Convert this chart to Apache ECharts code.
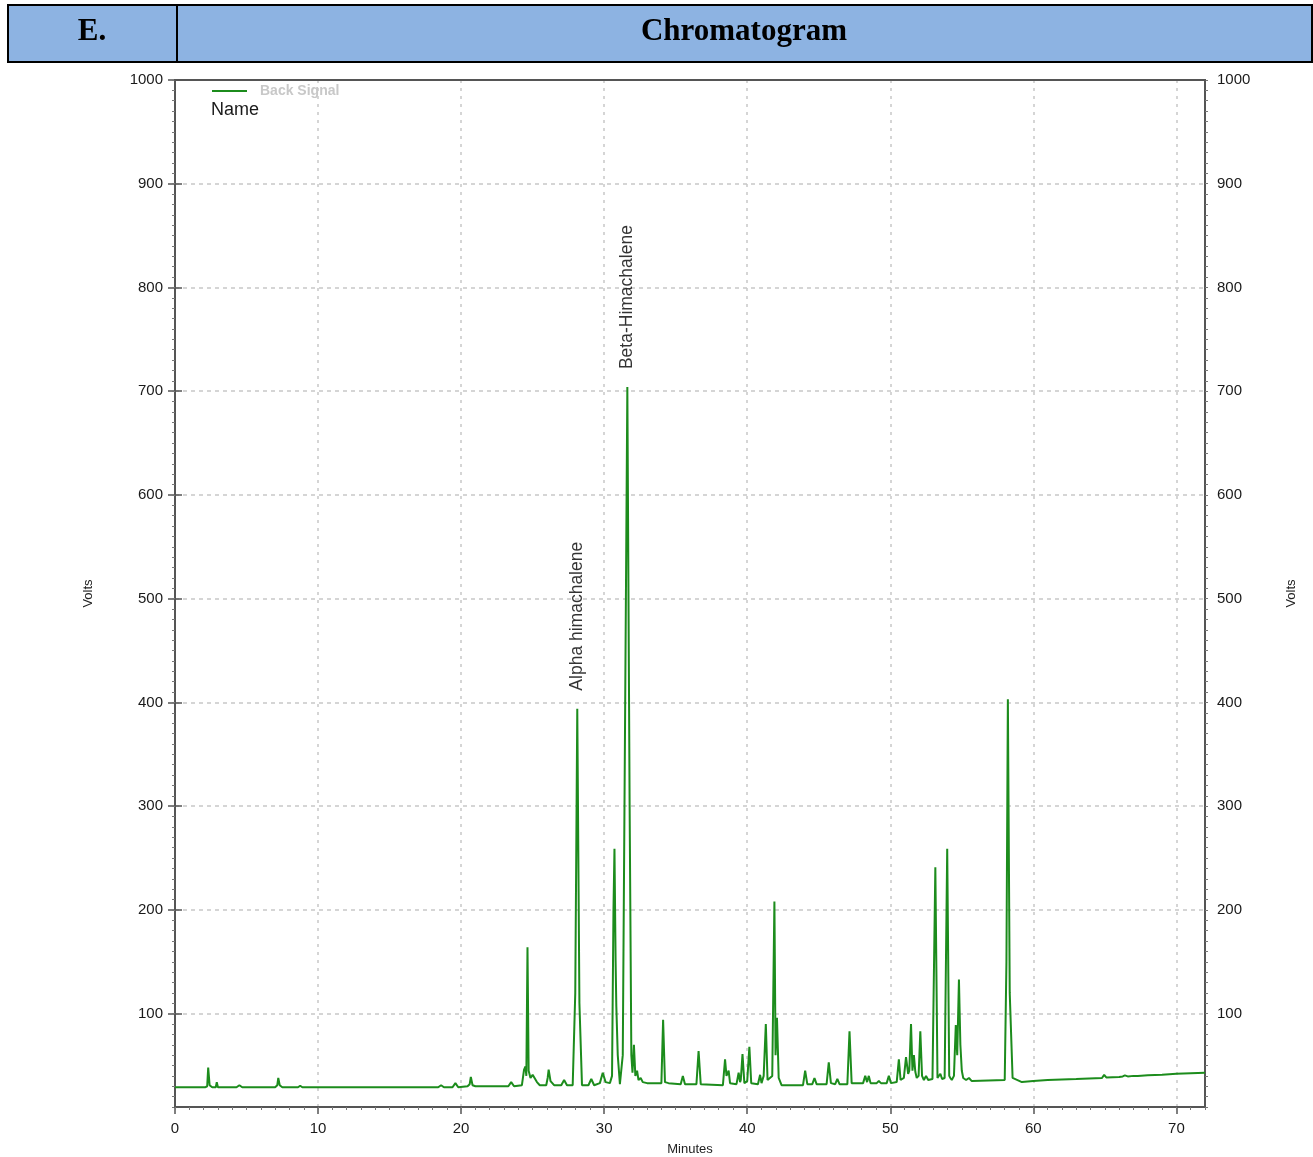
<!DOCTYPE html>
<html>
<head>
<meta charset="utf-8">
<script src="https://cdn.jsdelivr.net/npm/echarts@6/dist/echarts.min.js"></script>
<style>
html,body{margin:0;padding:0;background:#fff;}
#chart{width:1313px;height:1157px;}
</style>
</head>
<body>
<div id="chart"></div>
<script>
// Retention times (minutes) and detector signal (volts)
var minutes = [
  0, 2.1, 2.25, 2.32, 2.42, 2.6, 2.85, 2.92, 3.0, 4.3, 4.5, 4.7, 7.0, 7.15, 7.22, 7.32, 7.5,
  8.6, 8.75, 8.9, 18.4, 18.6, 18.8, 19.4, 19.6, 19.8, 20.45, 20.6, 20.68, 20.8, 21.0,
  23.3, 23.5, 23.7, 24.25, 24.4, 24.5, 24.56, 24.64, 24.72, 24.85, 25.0, 25.12, 25.3, 25.5,
  25.95, 26.05, 26.12, 26.25, 26.5, 27.0, 27.2, 27.4, 27.8, 27.98, 28.12, 28.27, 28.45,
  28.9, 29.1, 29.3, 29.7, 29.9, 30.1, 30.4, 30.55, 30.65, 30.72, 30.8, 30.85, 30.95, 31.1,
  31.3, 31.47, 31.62, 31.78, 31.9, 31.98, 32.08, 32.18, 32.3, 32.4, 32.55, 32.7, 33.0,
  34.0, 34.12, 34.25, 34.5, 35.35, 35.5, 35.65, 36.45, 36.6, 36.75,
  38.3, 38.45, 38.55, 38.7, 38.8, 38.9, 39.25, 39.4, 39.5, 39.55, 39.67, 39.8, 40.0, 40.15, 40.28,
  40.75, 40.9, 41.0, 41.15, 41.3, 41.42, 41.75, 41.9, 41.98, 42.08, 42.2, 42.4, 43.0, 43.1, 43.3,
  43.9, 44.05, 44.2, 44.55, 44.7, 44.85, 45.55, 45.7, 45.85, 46.15, 46.3, 46.45, 47.0, 47.15, 47.3,
  48.1, 48.25, 48.38, 48.5, 48.62, 49.05, 49.2, 49.35, 49.75, 49.9, 50.05,
  50.45, 50.6, 50.72, 50.95, 51.1, 51.25, 51.33, 51.45, 51.55, 51.65, 51.75, 51.85, 51.98, 52.1, 52.22,
  52.35, 52.5, 52.65, 52.95, 53.15, 53.3, 53.4, 53.5, 53.62, 53.8, 53.98, 54.12, 54.2, 54.3,
  54.45, 54.58, 54.68, 54.8, 54.9, 55.0, 55.1, 55.3, 55.5, 55.7, 58.0, 58.12, 58.22, 58.35, 58.55,
  59.2, 60.0, 61.0, 62.0, 63.0, 64.8, 64.95, 65.1, 66.0, 66.1, 66.25, 66.4, 66.6, 67.0, 67.1, 67.3,
  68.0, 69.0, 70.0, 71.0, 72.0
];
var volts = [
  29, 29, 30, 48, 31, 29, 29, 34, 29, 29, 31, 29, 29, 31, 38, 31, 29,
  29, 30.5, 29, 29, 31, 29, 29, 33, 29, 30, 32, 39, 31, 30,
  30, 34, 30, 31, 46, 49, 40, 164, 45, 38, 41, 40, 34, 31,
  31, 38, 46, 35, 31, 31, 36, 31, 31, 120, 394, 110, 31,
  31, 37, 31, 33, 43, 34, 33, 40, 200, 259, 150, 107, 60, 32,
  60, 400, 704, 300, 60, 43, 70, 40, 45, 36, 38, 34, 33,
  33, 94, 34, 33, 32, 40, 32, 32, 64, 32,
  31, 56, 40, 45, 33, 32, 32, 43, 34, 36, 61, 33, 35, 68, 33,
  32, 41, 33, 40, 90, 36, 40, 208, 60, 96, 38, 31, 31, 32, 31,
  31, 45, 32, 32, 38, 32, 32, 53, 33, 32, 37, 32, 32, 83, 33,
  33, 40, 34, 40, 33, 33, 35, 33, 33, 40, 33,
  34, 56, 36, 38, 58, 42, 45, 90, 45, 60, 44, 38, 40, 83, 40,
  36, 40, 36, 37, 241, 38, 38, 42, 37, 38, 259, 40, 38, 36,
  40, 89, 60, 133, 70, 45, 38, 36, 38, 35, 36, 150, 403, 120, 38,
  34, 35, 36, 36.5, 37, 38, 41, 38.5, 39, 40.5, 39.5, 40.5, 39.5, 40, 41, 40,
  40.5, 41, 42, 42.5, 43
];
var peakNames = ['Alpha himachalene', 'Beta-Himachalene'];
var peakTimes = [28.12, 31.62];
var yTickLabels = [100, 200, 300, 400, 500, 600, 700, 800, 900, 1000];
var xTickLabels = [0, 10, 20, 30, 40, 50, 60, 70];

var lineData = minutes.map(function (t, i) { return [t, volts[i]]; });
var labelData = peakNames.map(function (n, i) {
  var idx = minutes.indexOf(peakTimes[i]);
  return { name: n, value: [peakTimes[i], volts[idx]] };
});

var axisColor = '#555';
var FONT = '"Liberation Sans", Arial, sans-serif';
var labelStyle = { color: '#1a1a1a', fontSize: 15, fontFamily: FONT, formatter: function (v) { return String(v); } };
var gridLine = { show: true, lineStyle: { color: '#c8c8c8', type: [4, 4], width: 1.5 } };

function majorY(pos) {
  return {
    type: 'value', position: pos, min: 10, max: 1000,
    name: 'Volts', nameLocation: 'middle', nameRotate: 90, nameGap: 80,
    nameTextStyle: { color: '#222', fontSize: 13, fontFamily: FONT },
    axisLine: { show: true, lineStyle: { color: axisColor, width: 2 } },
    axisTick: { show: true, length: 7, customValues: yTickLabels, lineStyle: { color: axisColor, width: 1.5 } },
    axisLabel: Object.assign({ customValues: yTickLabels, margin: 12 }, labelStyle),
    splitLine: pos === 'left' ? gridLine : { show: false }
  };
}
function minorY(pos) {
  return {
    type: 'value', position: pos, min: 10, max: 1000, interval: 10,
    axisLine: { show: false },
    axisTick: { show: true, length: 3, lineStyle: { color: '#777', width: 1 } },
    axisLabel: { show: false }, splitLine: { show: false }
  };
}

var chart = echarts.init(document.getElementById('chart'), null, { renderer: 'canvas' });
chart.setOption({
  animation: false,
  backgroundColor: '#fff',
  grid: { left: 175, right: 108, top: 80, bottom: 50, outerBoundsMode: 'none', containLabel: false,
          show: true, borderColor: axisColor, borderWidth: 2, backgroundColor: 'transparent' },
  legend: {
    show: true, left: 212, top: 84, icon: 'rect', itemWidth: 35, itemHeight: 2, itemGap: 10, padding: 0,
    data: ['Back Signal'],
    textStyle: { color: '#c8c8c8', fontSize: 14, fontWeight: 'bold', fontFamily: FONT, padding: [0, 0, 0, 8] }
  },
  xAxis: [
    {
      type: 'value', position: 'bottom', min: 0, max: 72,
      name: 'Minutes', nameLocation: 'middle', nameGap: 36,
      nameTextStyle: { color: '#222', fontSize: 13, fontFamily: FONT },
      axisLine: { show: true, lineStyle: { color: axisColor, width: 2 } },
      axisTick: { show: true, length: 7, customValues: xTickLabels, lineStyle: { color: axisColor, width: 1.5 } },
      axisLabel: Object.assign({ customValues: xTickLabels, margin: 14 }, labelStyle),
      splitLine: { show: true, lineStyle: { color: '#c8c8c8', type: [3, 5], width: 1.5 } }
    },
    {
      type: 'value', position: 'bottom', min: 0, max: 72, interval: 1,
      axisLine: { show: false },
      axisTick: { show: true, length: 3, lineStyle: { color: '#777', width: 1 } },
      axisLabel: { show: false }, splitLine: { show: false }
    },
    {
      type: 'value', position: 'top', min: 0, max: 72, z: 5,
      axisLine: { show: true, lineStyle: { color: axisColor, width: 2 } },
      axisTick: { show: false }, axisLabel: { show: false }, splitLine: { show: false }
    }
  ],
  yAxis: [majorY('left'), majorY('right'), minorY('left'), minorY('right')],
  graphic: [
    { type: 'rect', shape: { x: 8, y: 5, width: 1304, height: 57 }, style: { fill: '#8DB3E2', stroke: '#000', lineWidth: 2 }, z: 100 },
    { type: 'line', shape: { x1: 177, y1: 5, x2: 177, y2: 62 }, style: { stroke: '#000', lineWidth: 2 }, z: 101 },
    { type: 'text', x: 92, y: 32, style: { text: 'E.', fill: '#000', font: 'bold 31px "Liberation Serif", "Times New Roman", serif', align: 'center', verticalAlign: 'middle' }, z: 102 },
    { type: 'text', x: 744, y: 32, style: { text: 'Chromatogram', fill: '#000', font: 'bold 31px "Liberation Serif", "Times New Roman", serif', align: 'center', verticalAlign: 'middle' }, z: 102 },
    { type: 'text', x: 211, y: 110, style: { text: 'Name', fill: '#1a1a1a', font: '18px "Liberation Sans", Arial, sans-serif', align: 'left', verticalAlign: 'middle' }, z: 102 }
  ],
  series: [
    {
      name: 'Back Signal', type: 'line', xAxisIndex: 0, yAxisIndex: 0,
      data: lineData, showSymbol: false, symbol: 'none', sampling: null,
      lineStyle: { color: '#1c8c1c', width: 2 }, itemStyle: { color: '#1c8c1c' }
    },
    {
      name: 'labels', type: 'scatter', xAxisIndex: 0, yAxisIndex: 0,
      data: labelData, symbolSize: 0, silent: true,
      label: {
        show: true, formatter: '{b}', position: 'top', distance: 18, rotate: 90,
        align: 'left', verticalAlign: 'middle', color: '#000', fontSize: 17.5,
        fontFamily: FONT
      }
    }
  ]
});
</script>
</body>
</html>
